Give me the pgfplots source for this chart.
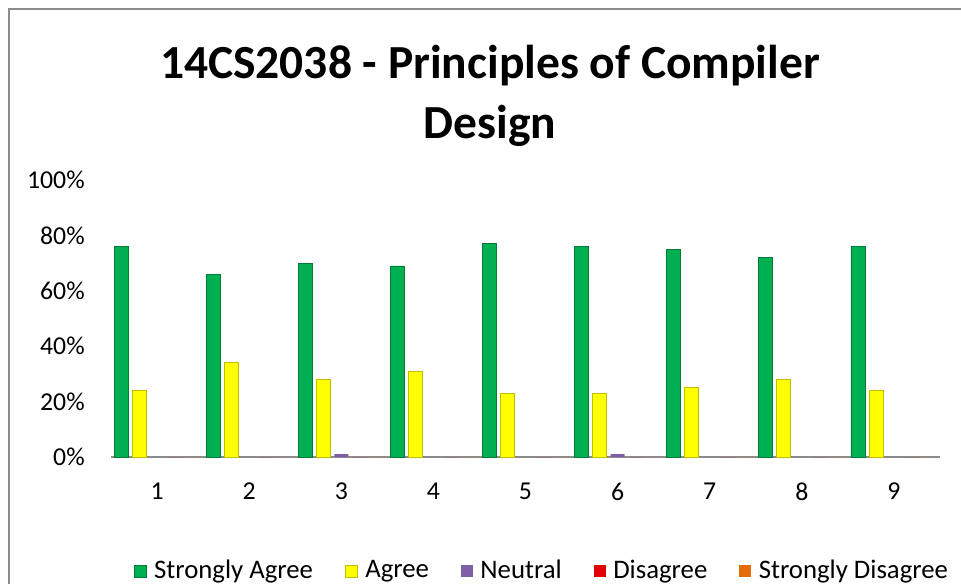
\documentclass[border=0pt]{standalone}
\usepackage{pgfplots}
\pgfplotsset{compat=1.18}
\usepackage{fontspec}
\setmainfont{Carlito}
\definecolor{sagree}{HTML}{00B050}
\definecolor{agree}{HTML}{FFFF00}
\definecolor{neutral}{HTML}{7F5FA8}
\definecolor{disagree}{HTML}{E00000}
\definecolor{sdisagree}{HTML}{E46C0A}
\begin{document}
\begin{tikzpicture}
\useasboundingbox (0,0) rectangle (384.4pt,233.6pt);
\draw[color=black!45, line width=0.8pt] (3.6pt,0) -- (3.6pt,230pt) -- (384.4pt,230pt);
\node[align=center, font=\bfseries\fontsize{19}{24}\selectfont] at (196pt,195.4pt) {14CS2038 - Principles of Compiler\\Design};
\begin{axis}[
  at={(44.4pt,50.8pt)}, anchor=origin,
  scale only axis, width=331.6pt, height=110.8pt,
  ybar=1.6pt, bar width=5.6pt,
  xmin=0.5, xmax=9.5, ymin=0, ymax=100,
  xtick={1,...,9}, ytick={0,20,...,100},
  yticklabel={\pgfmathprintnumber{\tick}\%},
  /pgf/number format/assume math mode=true,
  tick style={draw=none},
  axis y line*=left, axis x line*=bottom,
  y axis line style={draw=none},
  x axis line style={draw=black!45, line width=0.6pt, -},
  ticklabel style={font=\fontsize{10.3}{12}\selectfont},
  yticklabel style={xshift=-7pt},
  xticklabel style={yshift=-2.6pt},
  legend columns=5,
  legend style={draw=none, at={(0.5217,-0.412)}, anchor=center,
    font=\fontsize{10.7}{12}\selectfont,
    /tikz/every even column/.append style={column sep=10.8pt},
    /tikz/every odd column/.append style={column sep=1pt}},
  legend image code/.code={\fill[#1] (0pt,-2.4pt) rectangle (4.8pt,2.4pt);},
  clip=false,
]
\addplot[fill=sagree, draw=sagree!70!black, line width=0.3pt] coordinates {(1,76) (2,66) (3,70) (4,69) (5,77) (6,76) (7,75) (8,72) (9,76)};
\addplot[fill=agree, draw=agree!75!black, line width=0.3pt] coordinates {(1,24) (2,34) (3,28) (4,31) (5,23) (6,23) (7,25) (8,28) (9,24)};
\addplot[fill=neutral, draw=none] coordinates {(1,0) (2,0) (3,1) (4,0) (5,0) (6,1) (7,0) (8,0) (9,0)};
\addplot[fill=disagree, draw=none] coordinates {(1,0) (2,0) (3,0) (4,0) (5,0) (6,0) (7,0) (8,0) (9,0)};
\addplot[fill=sdisagree, draw=none] coordinates {(1,0) (2,0) (3,0) (4,0) (5,0) (6,0) (7,0) (8,0) (9,0)};
\legend{Strongly Agree, Agree, Neutral, Disagree, Strongly Disagree}
\end{axis}
\end{tikzpicture}
\end{document}
